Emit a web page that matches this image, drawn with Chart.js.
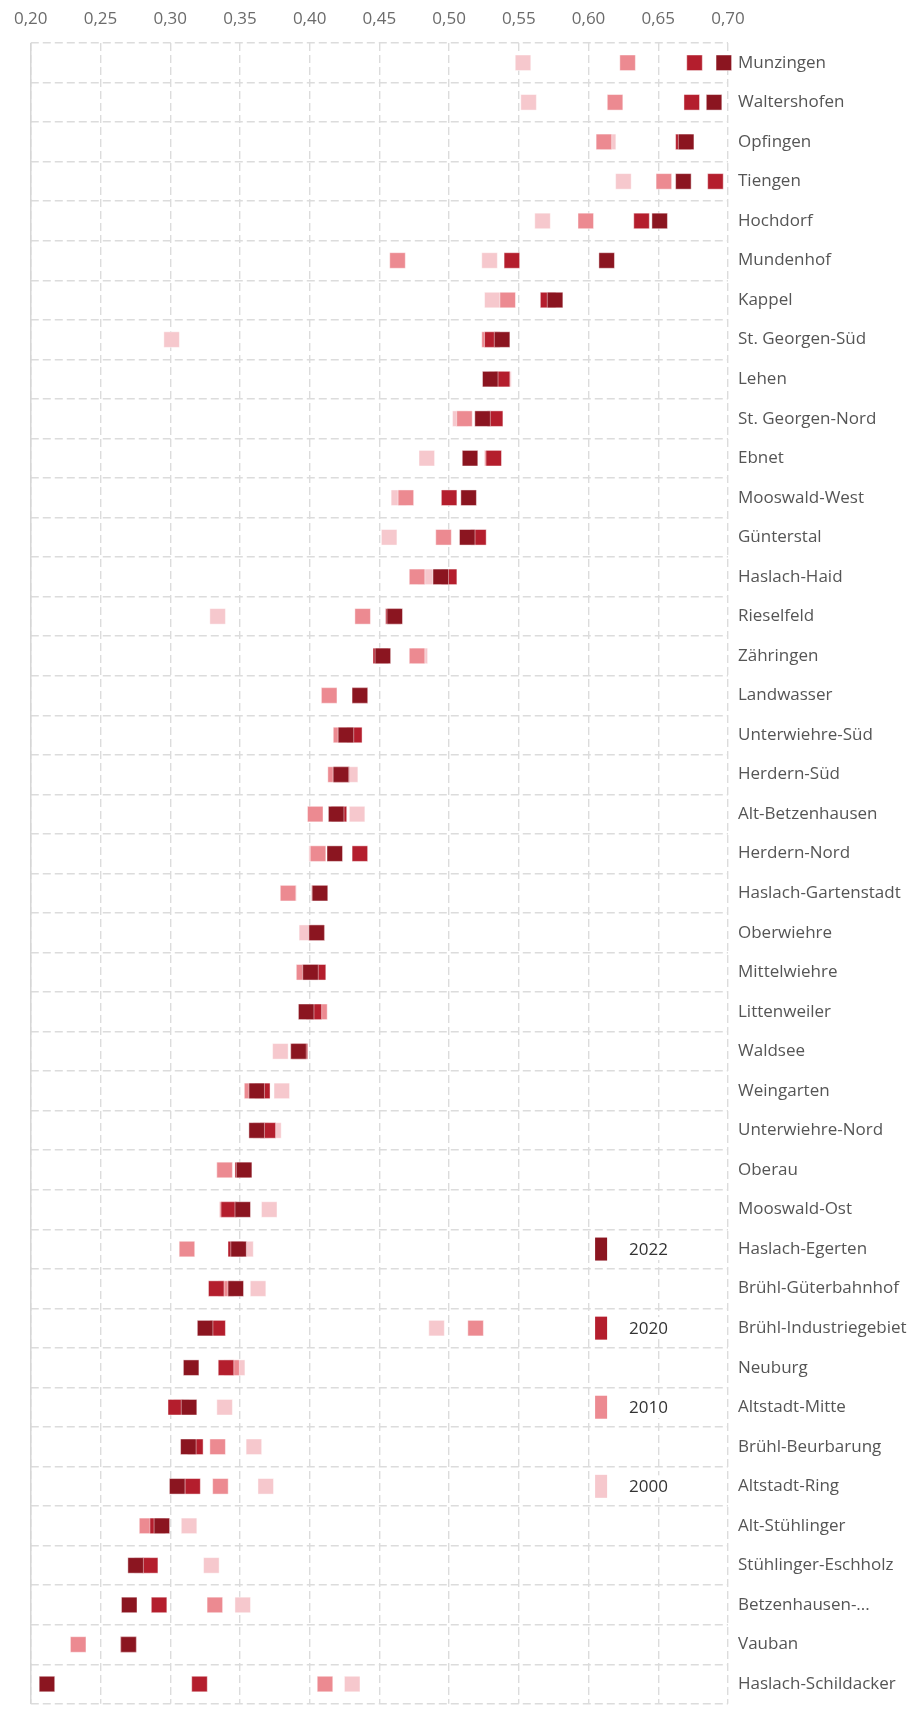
<!DOCTYPE html>
<html>
<head>
<meta charset="utf-8">
<script src="https://cdn.jsdelivr.net/npm/chart.js@4.4.1/dist/chart.umd.min.js"></script>
<style>
  html, body { margin: 0; padding: 0; background: #fff; }
  #wrap { width: 919px; height: 1720px; overflow: hidden; position: relative; }
  canvas { display: block; }
</style>
</head>
<body>
<div id="wrap"><canvas id="chart" width="919" height="1724"></canvas></div>
<script>
    // Stadtbezirke (top to bottom)
    const districts = ['Munzingen', 'Waltershofen', 'Opfingen', 'Tiengen', 'Hochdorf', 'Mundenhof', 'Kappel',
      'St. Georgen-Süd', 'Lehen', 'St. Georgen-Nord', 'Ebnet', 'Mooswald-West', 'Günterstal', 'Haslach-Haid',
      'Rieselfeld', 'Zähringen', 'Landwasser', 'Unterwiehre-Süd', 'Herdern-Süd', 'Alt-Betzenhausen', 'Herdern-Nord',
      'Haslach-Gartenstadt', 'Oberwiehre', 'Mittelwiehre', 'Littenweiler', 'Waldsee', 'Weingarten', 'Unterwiehre-Nord',
      'Oberau', 'Mooswald-Ost', 'Haslach-Egerten', 'Brühl-Güterbahnhof', 'Brühl-Industriegebiet', 'Neuburg',
      'Altstadt-Mitte', 'Brühl-Beurbarung', 'Altstadt-Ring', 'Alt-Stühlinger', 'Stühlinger-Eschholz',
      'Betzenhausen-...', 'Vauban', 'Haslach-Schildacker'];

    const years = ['2000', '2010', '2020', '2022'];

    const values2000 = [0.553, 0.557, 0.614, 0.625, 0.567, 0.529, 0.531, 0.301, 0.539, 0.508, 0.484, 0.464, 0.457, 0.483,
      0.334, 0.479, 0.414, 0.425, 0.429, 0.434, 0.405, 0.385, 0.398, 0.400, 0.400, 0.379, 0.380, 0.374,
      0.339, 0.371, 0.354, 0.363, 0.491, 0.348, 0.339, 0.360, 0.3685, 0.3135, 0.3295, 0.352, null, 0.4305];
    const values2010 = [0.628, 0.619, 0.611, 0.654, 0.598, 0.463, 0.542, 0.529, 0.534, 0.511, 0.531, 0.469, 0.496, 0.477,
      0.438, 0.477, 0.414, 0.4225, 0.4186, 0.404, 0.406, 0.3845, 0.405, 0.396, 0.407, 0.392, 0.3587, 0.365,
      0.339, 0.341, 0.312, 0.340, 0.519, 0.344, 0.308, 0.334, 0.336, 0.2834, 0.280, 0.332, 0.234, 0.411];
    const values2020 = [0.676, 0.674, 0.668, 0.691, 0.638, 0.545, 0.571, 0.531, 0.538, 0.533, 0.532, 0.500, 0.521, 0.500,
      0.460, 0.451, 0.436, 0.432, 0.423, 0.421, 0.436, 0.407, 0.405, 0.406, 0.403, 0.393, 0.366, 0.370,
      0.352, 0.342, 0.347, 0.333, 0.334, 0.340, 0.304, 0.318, 0.316, 0.291, 0.2856, 0.292, 0.270, 0.321];
    const values2022 = [0.697, 0.690, 0.670, 0.668, 0.651, 0.613, 0.576, 0.538, 0.5295, 0.524, 0.515, 0.514, 0.513, 0.494,
      0.461, 0.4525, 0.436, 0.426, 0.4224, 0.419, 0.418, 0.4074, 0.405, 0.4006, 0.3975, 0.392, 0.362, 0.362,
      0.353, 0.352, 0.349, 0.347, 0.325, 0.315, 0.3135, 0.313, 0.305, 0.294, 0.2752, 0.2706, 0.2701, 0.2116];

    const seriesValues = [values2000, values2010, values2020, values2022];
    const colors = ['#f6c8cd', '#ec8a91', '#b41e2d', '#8b1520'];

    // legend sits inside the plot, next to these rows
    const legendRows = ['Haslach-Egerten', 'Brühl-Industriegebiet', 'Altstadt-Mitte', 'Altstadt-Ring'];
    const legendOrder = [3, 2, 1, 0];
    const legendX = 0.609;

    const fmt = v => v.toFixed(2).replace('.', ',');

    // custom plugin: solid left edge + legend inside chart
    const extrasPlugin = {
      id: 'extras',
      beforeDatasetsDraw(chart) {
        const { ctx, chartArea } = chart;
        ctx.save();
        ctx.strokeStyle = '#d6d6d6';
        ctx.lineWidth = 1.5;
        ctx.beginPath();
        ctx.moveTo(chartArea.left, chartArea.top);
        ctx.lineTo(chartArea.left, chartArea.bottom);
        ctx.stroke();
        ctx.restore();
      },
      afterDatasetsDraw(chart) {
        const { ctx } = chart;
        const xs = chart.scales.x;
        const ys = chart.scales.y;
        const cx = xs.getPixelForValue(legendX);
        ctx.save();
        ctx.font = '17px "Open Sans", sans-serif';
        ctx.textBaseline = 'middle';
        legendOrder.forEach((s, i) => {
          const cy = ys.getPixelForValue(districts.indexOf(legendRows[i]));
          ctx.fillStyle = colors[s];
          ctx.fillRect(cx - 6, cy - 11.5, 12, 23);
          const tx = cx + 28;
          const w = ctx.measureText(years[s]).width;
          ctx.fillStyle = '#fff';
          ctx.fillRect(tx - 4, cy - 11, w + 8, 22);
          ctx.fillStyle = '#333';
          ctx.fillText(years[s], tx, cy + 1);
        });
        ctx.restore();
      }
    };

    const datasets = seriesValues.map((vals, s) => ({
      label: years[s],
      data: vals.map((v, i) => ({ x: v, y: districts[i] })),
      backgroundColor: colors[s],
      borderColor: 'rgba(255,255,255,0.45)',
      borderWidth: 1,
      pointStyle: 'rect',
      pointRadius: 11,
      pointHoverRadius: 11,
      showLine: false,
      clip: false,
      order: 3 - s
    }));

    new Chart(document.getElementById('chart'), {
      type: 'scatter',
      data: { labels: districts, datasets },
      options: {
        responsive: false,
        animation: false,
        events: [],
        layout: { padding: { left: 30, top: 0, right: 0, bottom: 0 } },
        plugins: { legend: { display: false }, tooltip: { enabled: false } },
        scales: {
          x: {
            type: 'linear',
            position: 'top',
            min: 0.2,
            max: 0.7,
            afterFit: scale => { scale.height = 43; },
            ticks: {
              stepSize: 0.05,
              padding: 14,
              maxRotation: 0,
              autoSkip: false,
              color: '#6b6b6b',
              font: { family: '"Open Sans", sans-serif', size: 17 },
              callback: v => fmt(v)
            },
            grid: { color: '#dcdcdc', lineWidth: 1.4, drawTicks: false },
            border: { display: false, dash: [8, 4] }
          },
          y: {
            type: 'category',
            position: 'right',
            offset: true,
            afterFit: scale => { scale.width = 191; },
            ticks: {
              padding: 10,
              autoSkip: false,
              color: '#555',
              font: { family: '"Open Sans", sans-serif', size: 17 }
            },
            grid: { offset: true, color: '#dcdcdc', lineWidth: 1.4, drawTicks: false },
            border: { display: false, dash: [8, 4] }
          }
        }
      },
      plugins: [extrasPlugin]
    });
</script>
</body>
</html>
